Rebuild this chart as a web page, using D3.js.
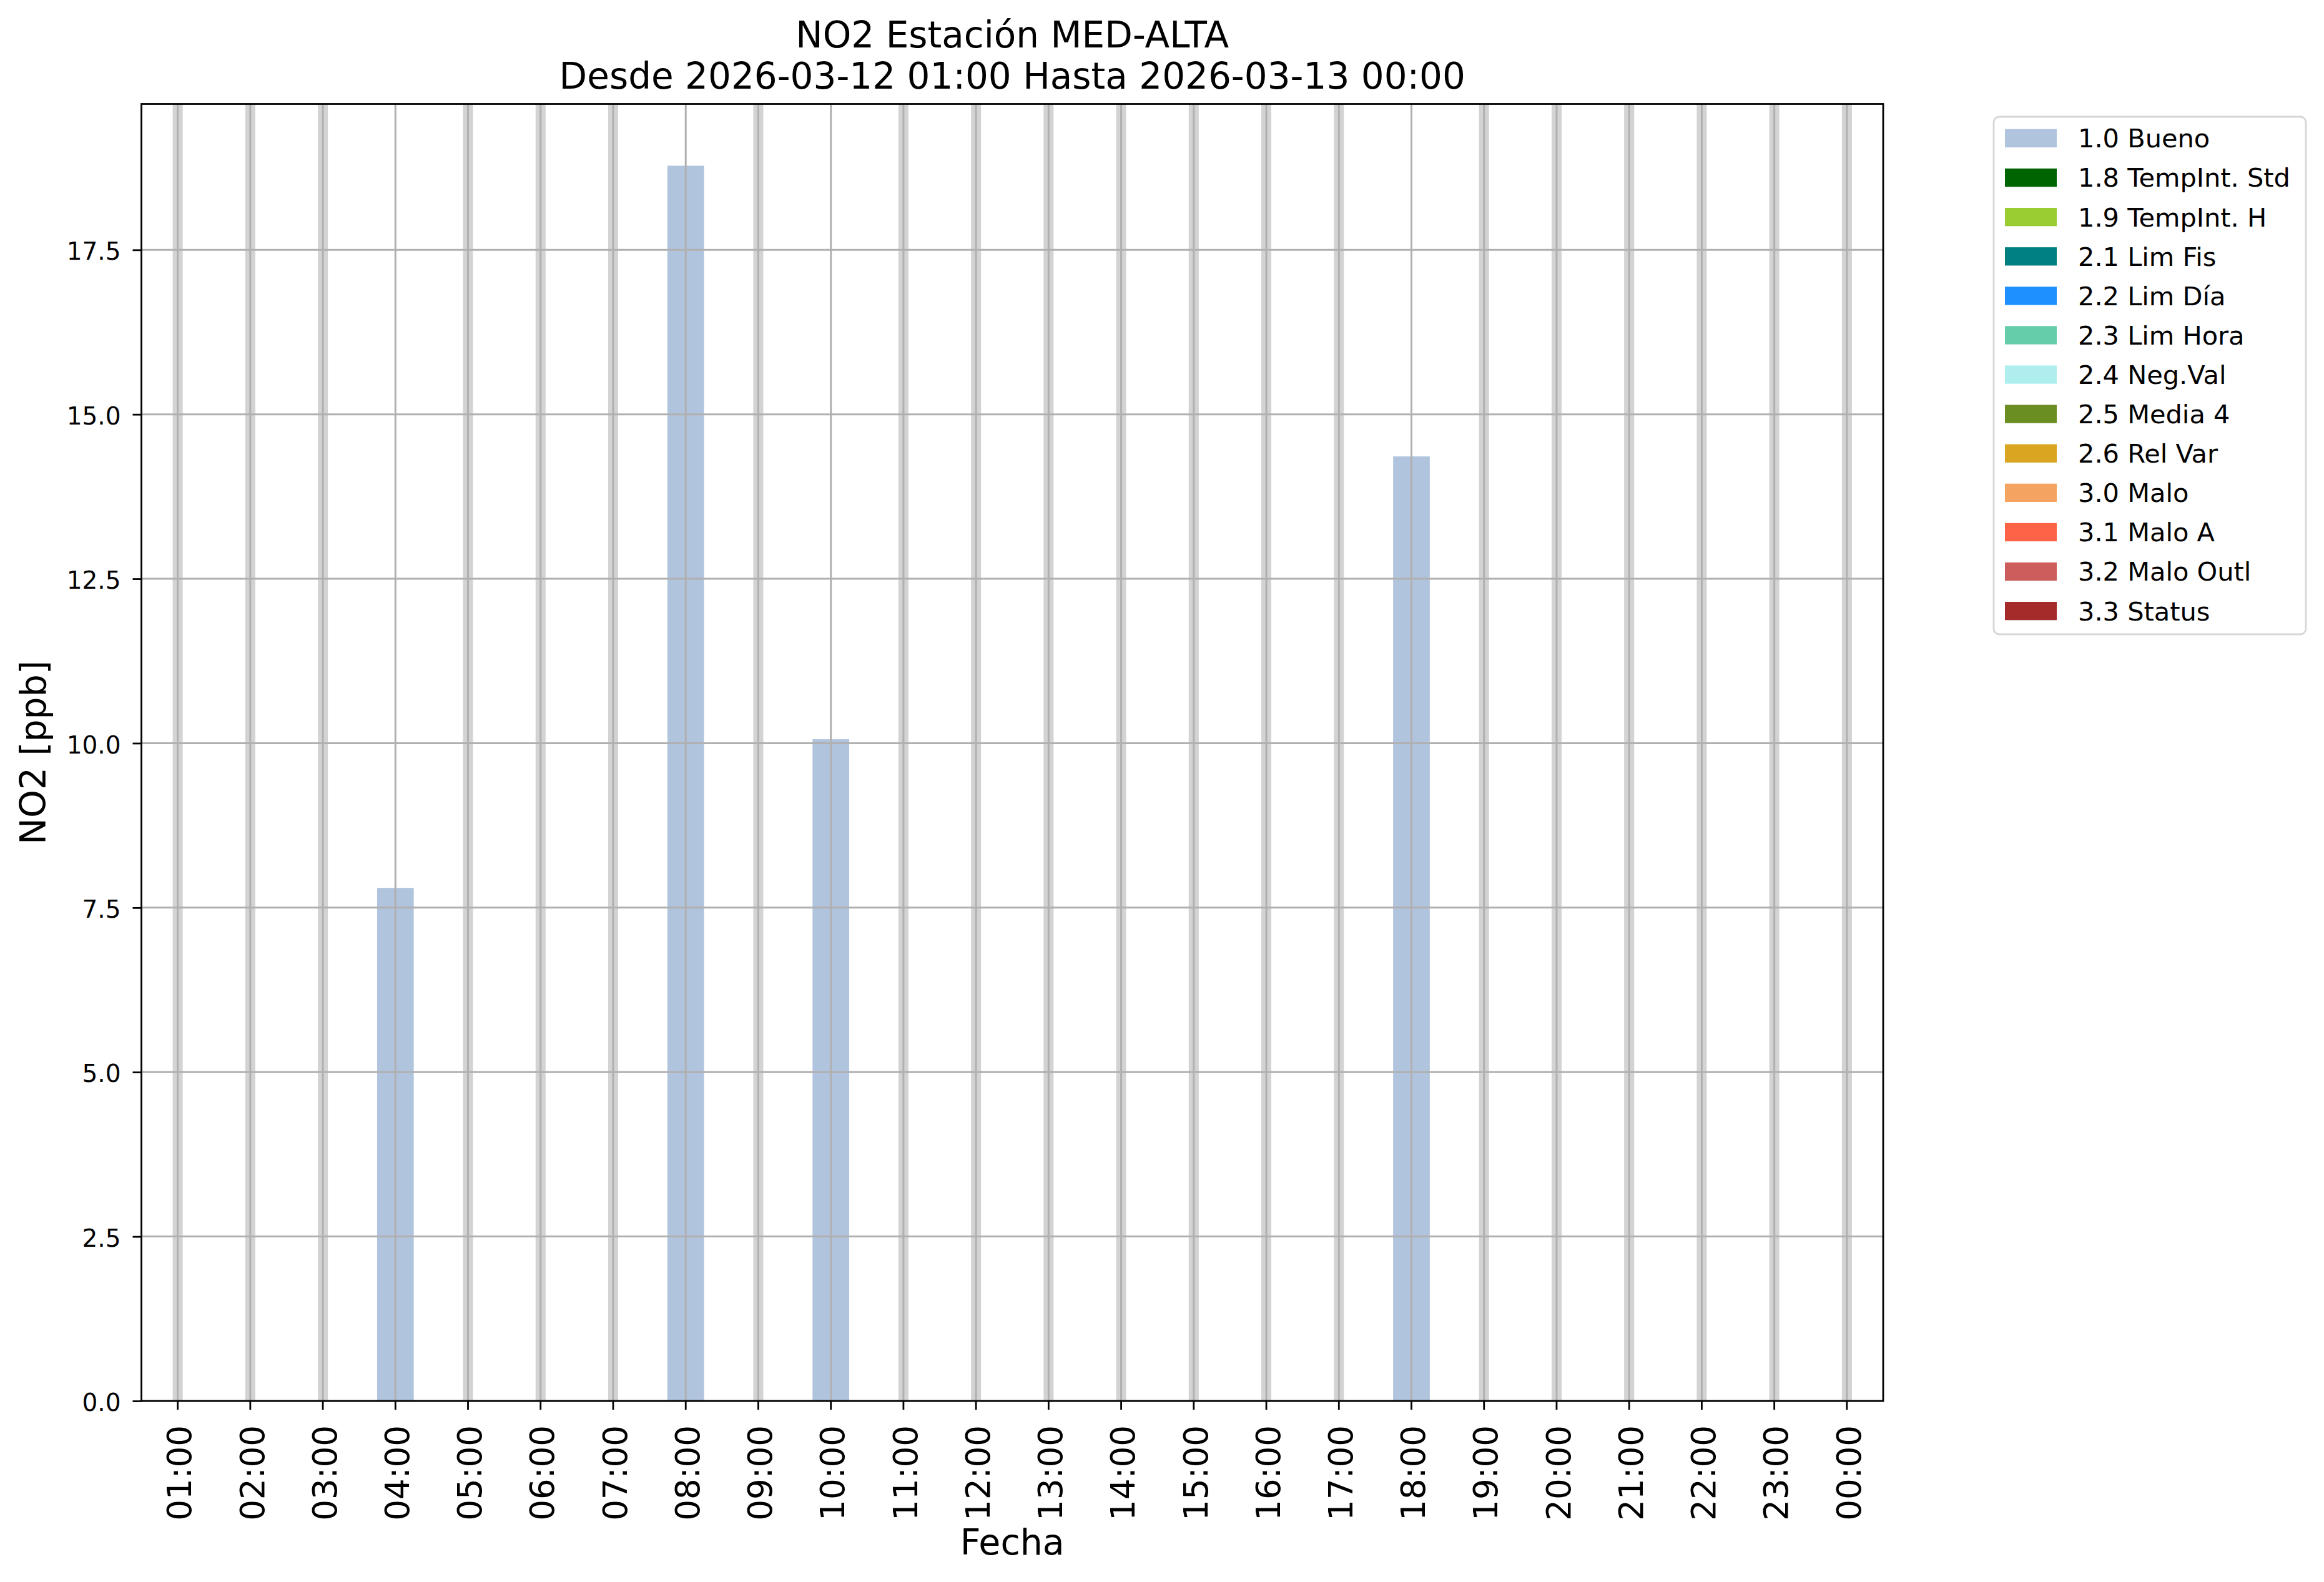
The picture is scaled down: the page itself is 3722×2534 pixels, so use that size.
<!DOCTYPE html>
<html>
<head>
<meta charset="utf-8">
<script src="https://cdn.jsdelivr.net/npm/d3@7"></script>
<style>
  html, body { margin: 0; padding: 0; background: #ffffff; }
  svg { display: block; }
  text { font-family: "DejaVu Sans", sans-serif; fill: #000; }
</style>
</head>
<body>
<svg id="chart" width="3722" height="2534"></svg>
<script>
// ---------------- DATA ----------------
const titleLines = ["NO2 Estación MED-ALTA", "Desde 2026-03-12 01:00 Hasta 2026-03-13 00:00"];
const xLabel = "Fecha";
const yLabel = "NO2 [ppb]";
const hours = ["01:00","02:00","03:00","04:00","05:00","06:00","07:00","08:00","09:00","10:00","11:00","12:00",
               "13:00","14:00","15:00","16:00","17:00","18:00","19:00","20:00","21:00","22:00","23:00","00:00"];
// NO2 values (ppb), null = no data (drawn as a light gray band)
const no2 = [null, null, null, 7.80, null, null, null, 18.78, null, 10.06, null, null,
             null, null, null, null, null, 14.36, null, null, null, null, null, null];
const yTicks = [0, 2.5, 5, 7.5, 10, 12.5, 15, 17.5];
const flagLabels = ["1.0 Bueno","1.8 TempInt. Std","1.9 TempInt. H","2.1 Lim Fis","2.2 Lim Día","2.3 Lim Hora",
                    "2.4 Neg.Val","2.5 Media 4","2.6 Rel Var","3.0 Malo","3.1 Malo A","3.2 Malo Outl","3.3 Status"];
const flagColors = ["#b0c4de","#006400","#9acd32","#008080","#1e90ff","#66cdaa",
                    "#afeeee","#6b8e23","#daa520","#f4a460","#ff6347","#cd5c5c","#a52a2a"];
const barFlag = "1.0 Bueno";

// ---------------- LAYOUT ----------------
const W = 3722, H = 2534;
const plot = { left: 226.5, top: 166.5, right: 3016, bottom: 2244 };
const svg = d3.select("#chart");
svg.append("rect").attr("width", W).attr("height", H).attr("fill", "#fff");

const x = d3.scaleBand().domain(hours).range([plot.left, plot.right]).padding(0);
const yMax = d3.max(no2) * 1.05;
const y = d3.scaleLinear().domain([0, yMax]).range([plot.bottom, plot.top]);
const cx = h => x(h) + x.bandwidth() / 2;

const color = d3.scaleOrdinal().domain(flagLabels).range(flagColors);

const g = svg.append("g");

// missing-data bands
const bandW = x.bandwidth() * 0.138;
g.selectAll("rect.miss")
  .data(hours.map((h, i) => ({ h, v: no2[i] })).filter(d => d.v === null))
  .enter().append("rect")
  .attr("class", "miss")
  .attr("x", d => cx(d.h) - bandW / 2)
  .attr("width", bandW)
  .attr("y", y(yMax))
  .attr("height", y(0) - y(yMax))
  .attr("fill", "#d3d3d3");

// bars
const barW = x.bandwidth() * 0.505;
g.selectAll("rect.bar")
  .data(hours.map((h, i) => ({ h, v: no2[i] })).filter(d => d.v !== null))
  .enter().append("rect")
  .attr("class", "bar")
  .attr("x", d => cx(d.h) - barW / 2)
  .attr("width", barW)
  .attr("y", d => y(d.v))
  .attr("height", d => y(0) - y(d.v))
  .attr("fill", color(barFlag));

// grid lines
const gridW = 3;
g.selectAll("line.vg").data(hours).enter().append("line")
  .attr("x1", d => cx(d)).attr("x2", d => cx(d))
  .attr("y1", plot.top).attr("y2", plot.bottom)
  .attr("stroke", "#b0b0b0").attr("stroke-width", gridW);
g.selectAll("line.hg").data(yTicks).enter().append("line")
  .attr("x1", plot.left).attr("x2", plot.right)
  .attr("y1", d => y(d)).attr("y2", d => y(d))
  .attr("stroke", "#b0b0b0").attr("stroke-width", gridW);

// spines
const spineW = 2.8;
g.append("rect")
  .attr("x", plot.left).attr("y", plot.top)
  .attr("width", plot.right - plot.left).attr("height", plot.bottom - plot.top)
  .attr("fill", "none").attr("stroke", "#000").attr("stroke-width", spineW);

// y axis
const yAxis = d3.axisLeft(y).tickValues(yTicks).tickFormat(d3.format(".1f"))
  .tickSize(14).tickPadding(19);
const yg = svg.append("g").attr("transform", `translate(${plot.left},0)`).call(yAxis);
yg.select(".domain").remove();
yg.selectAll(".tick line").attr("stroke", "#000").attr("stroke-width", spineW);
yg.selectAll(".tick text")
  .attr("font-family", "DejaVu Sans").attr("font-size", 39).attr("fill", "#000")
  .attr("dy", "0.40em");

// x axis
const xAxis = d3.axisBottom(x).tickSize(14).tickPadding(0);
const xg = svg.append("g").attr("transform", `translate(0,${plot.bottom})`).call(xAxis);
xg.select(".domain").remove();
xg.selectAll(".tick line").attr("stroke", "#000").attr("stroke-width", spineW);
xg.selectAll(".tick text")
  .attr("font-family", "DejaVu Sans").attr("font-size", 53).attr("fill", "#000")
  .attr("text-anchor", "end")
  .attr("transform", "translate(0,39) rotate(-90)")
  .attr("x", 0).attr("y", 0).attr("dy", "0.41em");

// axis labels
svg.append("text")
  .attr("x", (plot.left + plot.right) / 2).attr("y", 2490)
  .attr("text-anchor", "middle").attr("font-size", 57)
  .text(xLabel);
svg.append("text")
  .attr("transform", `translate(73,${(plot.top + plot.bottom) / 2}) rotate(-90)`)
  .attr("text-anchor", "middle").attr("font-size", 57)
  .text(yLabel);

// title
svg.selectAll("text.title").data(titleLines).enter().append("text")
  .attr("class", "title")
  .attr("x", (plot.left + plot.right) / 2)
  .attr("y", (d, i) => 76 + i * 65.7)
  .attr("text-anchor", "middle").attr("font-size", 58)
  .text(d => d);

// legend
const lg = svg.append("g");
const lx = 3193, ly = 187, lw = 500, lh = 829;
lg.append("rect").attr("x", lx).attr("y", ly).attr("width", lw).attr("height", lh)
  .attr("rx", 9).attr("ry", 9)
  .attr("fill", "#fff").attr("stroke", "#d6d6d6").attr("stroke-width", 2.8);
const rowPitch = 63.1;
const rows = lg.selectAll("g.row").data(flagLabels).enter().append("g")
  .attr("transform", (d, i) => `translate(0,${206.8 + i * rowPitch})`);
rows.append("rect").attr("x", 3211).attr("y", 0).attr("width", 83).attr("height", 29.3)
  .attr("fill", d => color(d));
rows.append("text").attr("x", 3328).attr("y", 29.5)
  .attr("font-size", 41.5).text(d => d);
</script>
</body>
</html>
